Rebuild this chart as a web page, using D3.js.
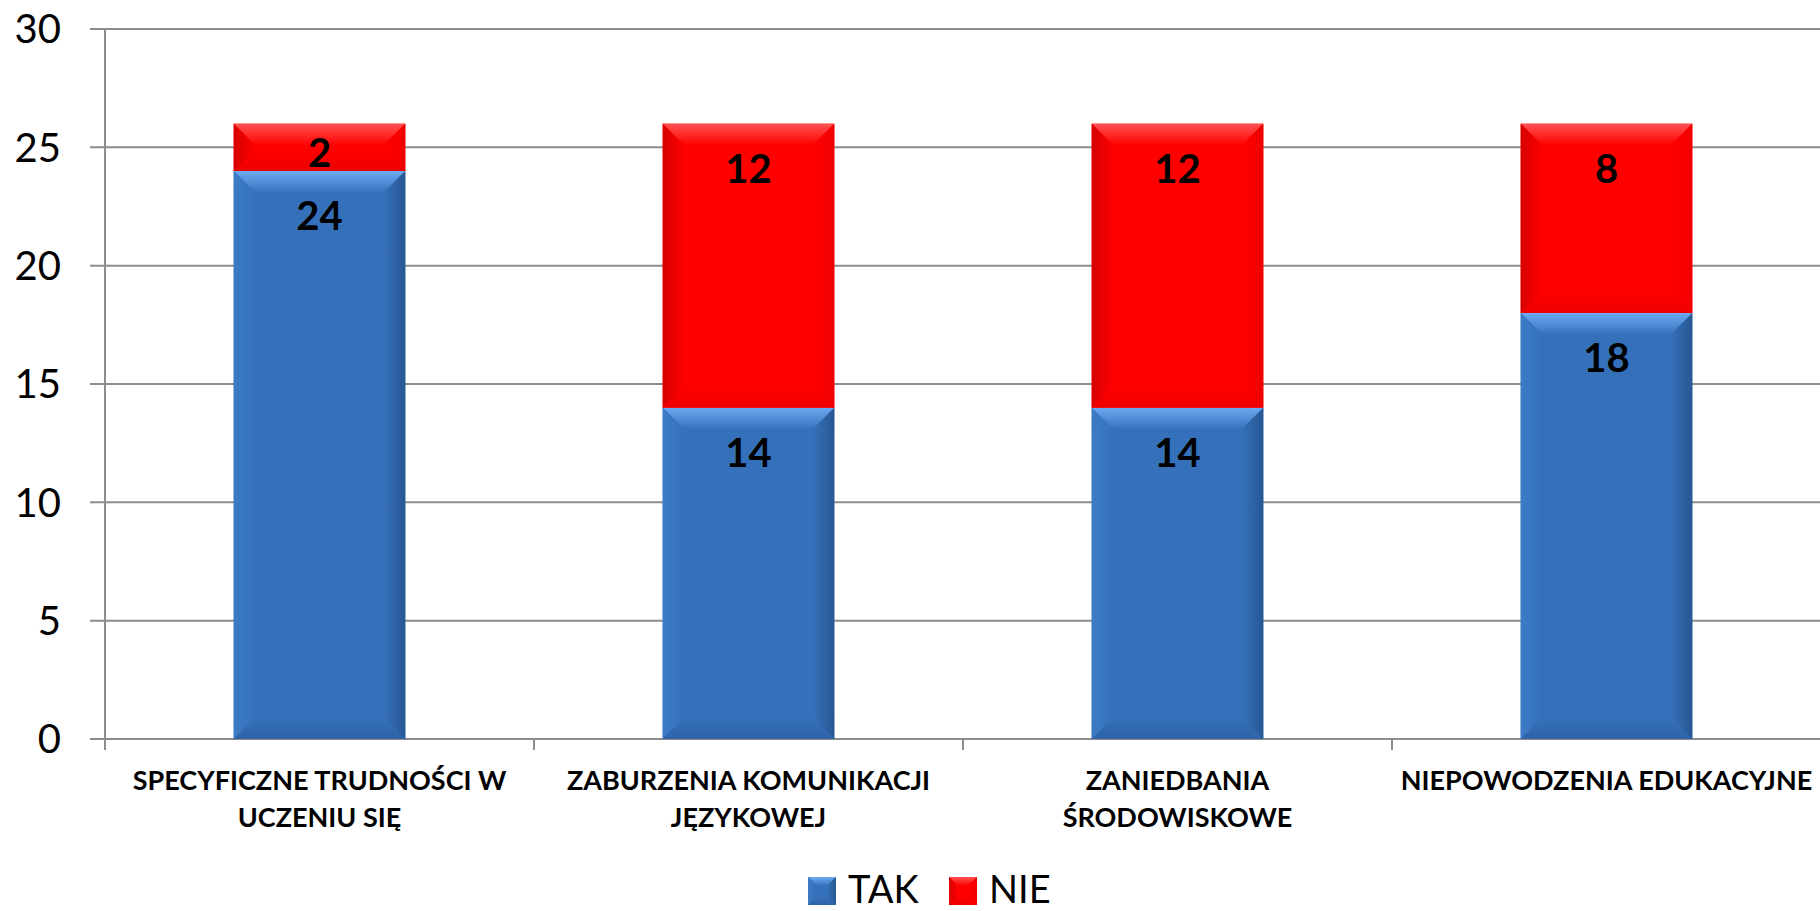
<!DOCTYPE html>
<html>
<head>
<meta charset="utf-8">
<script src="https://cdn.jsdelivr.net/npm/d3@7"></script>
<style>
  html, body { margin: 0; padding: 0; background: #fff; overflow: hidden; }
  svg { display: block; }
  text { font-family: Lato, "Open Sans", sans-serif; fill: #000; }
</style>
</head>
<body>
<svg id="chart" width="1820" height="911"></svg>
<script>
// ---- data ----
const categories = [
  "SPECYFICZNE TRUDNOŚCI W\nUCZENIU SIĘ",
  "ZABURZENIA KOMUNIKACJI\nJĘZYKOWEJ",
  "ZANIEDBANIA\nŚRODOWISKOWE",
  "NIEPOWODZENIA EDUKACYJNE"
];
const seriesNames = ["TAK", "NIE"];
const takValues = [24, 14, 14, 18];
const nieValues = [2, 12, 12, 8];
const yTicks = [0, 5, 10, 15, 20, 25, 30];

// ---- layout ----
const W = 1820, H = 911;
const plotLeft = 105, plotRight = 1821, plotTop = 29, plotBottom = 739;
const svg = d3.select("#chart");

const x = d3.scaleBand().domain(categories).range([plotLeft, plotRight]).padding(0);
const y = d3.scaleLinear().domain([0, 30]).range([plotBottom, plotTop]);
const barW = x.bandwidth() * 0.4;

const palettes = {
  TAK: { base: "#3571BA", top: "#6DAAF2", left: "#3D7BC6", right: "#285793", bottom: "#2E63A7" },
  NIE: { base: "#FF0000", top: "#FF5252", left: "#D60000", right: "#F00000", bottom: "#EE0000" }
};

const defs = svg.append("defs");
function grad(id, x1, y1, x2, y2, c1, c2) {
  const g = defs.append("linearGradient").attr("id", id)
    .attr("x1", x1).attr("y1", y1).attr("x2", x2).attr("y2", y2);
  g.append("stop").attr("offset", "0%").attr("stop-color", c1);
  g.append("stop").attr("offset", "100%").attr("stop-color", c2);
}
Object.entries(palettes).forEach(([k, p]) => {
  grad(k + "-top", 0, 0, 0, 1, p.top, p.base);
  grad(k + "-left", 0, 0, 1, 0, p.left, p.base);
  grad(k + "-right", 1, 0, 0, 0, p.right, p.base);
  grad(k + "-bottom", 0, 1, 0, 0, p.bottom, p.base);
});

function bevelRect(g, bx, by, bw, bh, key, maxB) {
  const p = palettes[key];
  const b = Math.min(maxB, bh / 2, bw / 2);
  g.append("rect").attr("x", bx).attr("y", by).attr("width", bw).attr("height", bh).attr("fill", p.base);
  const pts = a => a.map(d => d.join(",")).join(" ");
  g.append("polygon").attr("points", pts([[bx, by], [bx + bw, by], [bx + bw - b, by + b], [bx + b, by + b]]))
    .attr("fill", `url(#${key}-top)`);
  g.append("polygon").attr("points", pts([[bx, by], [bx + b, by + b], [bx + b, by + bh - b], [bx, by + bh]]))
    .attr("fill", `url(#${key}-left)`);
  g.append("polygon").attr("points", pts([[bx + bw, by], [bx + bw, by + bh], [bx + bw - b, by + bh - b], [bx + bw - b, by + b]]))
    .attr("fill", `url(#${key}-right)`);
  g.append("polygon").attr("points", pts([[bx, by + bh], [bx + b, by + bh - b], [bx + bw - b, by + bh - b], [bx + bw, by + bh]]))
    .attr("fill", `url(#${key}-bottom)`);
}

// ---- gridlines ----
svg.append("g").selectAll("line").data(yTicks).join("line")
  .attr("x1", 90).attr("x2", W).attr("y1", d => y(d)).attr("y2", d => y(d))
  .attr("stroke", "#8c8c8c").attr("stroke-width", 2);

// y axis
svg.append("line").attr("x1", plotLeft).attr("x2", plotLeft).attr("y1", plotTop).attr("y2", plotBottom + 11)
  .attr("stroke", "#8c8c8c").attr("stroke-width", 2);
// category ticks
svg.append("g").selectAll("line").data(categories.slice(1)).join("line")
  .attr("x1", d => x(d)).attr("x2", d => x(d)).attr("y1", plotBottom).attr("y2", plotBottom + 11)
  .attr("stroke", "#8c8c8c").attr("stroke-width", 2);

// y tick labels
svg.append("g").selectAll("text").data(yTicks).join("text")
  .attr("x", 61).attr("y", d => y(d)).attr("dy", "0.36em")
  .attr("text-anchor", "end").style("font-size", "40px")
  .text(d => d);

// ---- bars ----
const stacked = categories.map((c, i) => ({
  cat: c,
  segs: [
    { key: "TAK", y0: 0, y1: takValues[i], v: takValues[i] },
    { key: "NIE", y0: takValues[i], y1: takValues[i] + nieValues[i], v: nieValues[i] }
  ]
}));
const barsG = svg.append("g");
stacked.forEach(s => {
  const bx = x(s.cat) + (x.bandwidth() - barW) / 2;
  s.segs.forEach(seg => {
    const top = y(seg.y1), bot = y(seg.y0);
    bevelRect(barsG, bx, top, barW, bot - top, seg.key, 22);
  });
});
// data labels
stacked.forEach(s => {
  const cx = x(s.cat) + x.bandwidth() / 2;
  s.segs.forEach(seg => {
    const top = y(seg.y1), bot = y(seg.y0);
    const base = Math.min(top + 59, (top + bot) / 2 + 20);
    svg.append("text").attr("x", cx).attr("y", base).attr("text-anchor", "middle")
      .style("font-size", "40px").style("font-weight", "bold").text(seg.v);
  });
});

// ---- category labels ----
const catG = svg.append("g");
categories.forEach(c => {
  const lines = c.split("\n");
  const t = catG.append("text").attr("text-anchor", "middle")
    .style("font-size", "27px").style("font-weight", "bold");
  lines.forEach((ln, j) => {
    t.append("tspan").attr("x", x(c) + x.bandwidth() / 2).attr("y", 790 + j * 37).text(ln);
  });
});

// ---- legend ----
const legendX = [808, 949];
seriesNames.forEach((n, i) => {
  const lg = svg.append("g");
  bevelRect(lg, legendX[i], 877, 28, 28, n, 9);
  lg.append("text").attr("x", legendX[i] + 40).attr("y", 903)
    .style("font-size", "38px").text(n);
});
</script>
</body>
</html>
